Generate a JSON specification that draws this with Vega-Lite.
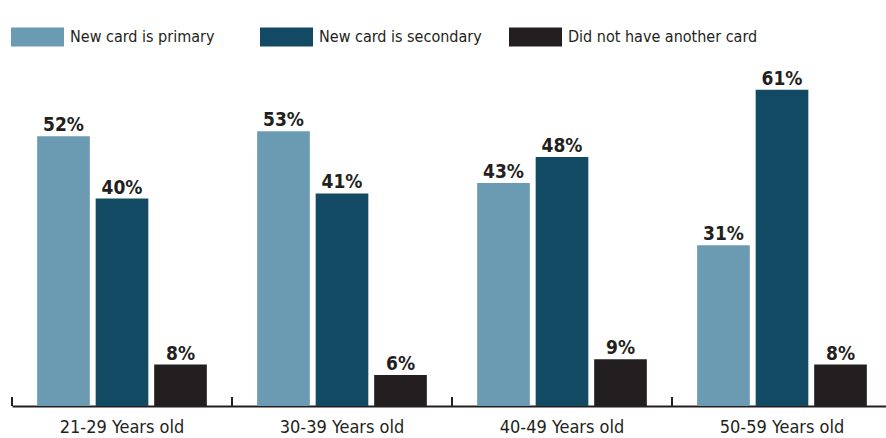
{
  "$schema": "https://vega.github.io/schema/vega-lite/v6.json",
  "width": 880,
  "height": 363,
  "autosize": {"type": "none"},
  "padding": {"left": 12, "top": 43, "right": 0, "bottom": 32},
  "background": "white",
  "config": {
    "view": {"stroke": null},
    "font": "DejaVu Sans Condensed, sans-serif"
  },
  "data": {
    "values": [
      {"age": "21-29 Years old", "series": "New card is primary", "value": 0.52},
      {"age": "21-29 Years old", "series": "New card is secondary", "value": 0.40},
      {"age": "21-29 Years old", "series": "Did not have another card", "value": 0.08},
      {"age": "30-39 Years old", "series": "New card is primary", "value": 0.53},
      {"age": "30-39 Years old", "series": "New card is secondary", "value": 0.41},
      {"age": "30-39 Years old", "series": "Did not have another card", "value": 0.06},
      {"age": "40-49 Years old", "series": "New card is primary", "value": 0.43},
      {"age": "40-49 Years old", "series": "New card is secondary", "value": 0.48},
      {"age": "40-49 Years old", "series": "Did not have another card", "value": 0.09},
      {"age": "50-59 Years old", "series": "New card is primary", "value": 0.31},
      {"age": "50-59 Years old", "series": "New card is secondary", "value": 0.61},
      {"age": "50-59 Years old", "series": "Did not have another card", "value": 0.08}
    ]
  },
  "encoding": {
    "x": {
      "field": "age", "type": "nominal", "title": null,
      "scale": {"paddingInner": 0, "paddingOuter": 0},
      "axis": {
        "labelAngle": 0, "ticks": false,
        "domainColor": "#231f20", "domainWidth": 2,
        "labelFontSize": 18, "labelColor": "#231f20", "labelPadding": 12,
        "labelFont": "DejaVu Sans Condensed, sans-serif"
      }
    },
    "y": {
      "field": "value", "type": "quantitative", "axis": null,
      "scale": {"domain": [0, 0.70], "nice": false}
    }
  },
  "layer": [
    {
      "mark": {"type": "rule", "strokeWidth": 2, "color": "#231f20"},
      "encoding": {
        "x": {"field": "age", "type": "nominal", "bandPosition": 0},
        "y": {"datum": 0},
        "y2": {"datum": 0.017}
      }
    },
    {
      "mark": {"type": "bar"},
      "encoding": {
        "xOffset": {
          "field": "series", "type": "nominal",
          "sort": ["New card is primary", "New card is secondary", "Did not have another card"],
          "scale": {"paddingInner": 0.1, "paddingOuter": 0.43}
        },
        "color": {
          "field": "series", "type": "nominal",
          "sort": ["New card is primary", "New card is secondary", "Did not have another card"],
          "scale": {
            "domain": ["New card is primary", "New card is secondary", "Did not have another card"],
            "range": ["#6b9ab3", "#134a63", "#231f20"]
          },
          "legend": {
            "title": null, "orient": "none", "legendX": -1, "legendY": -33,
            "direction": "horizontal", "columns": 3, "gridAlign": "all",
            "columnPadding": 0, "padding": 0,
            "symbolType": "M-1,-0.36H1V0.36H-1Z", "symbolSize": 2809,
            "symbolStrokeWidth": 0, "symbolOpacity": 1,
            "labelFontSize": 16, "labelColor": "#231f20", "labelOffset": 6,
            "labelLimit": 400,
            "labelFont": "DejaVu Sans Condensed, sans-serif"
          }
        }
      }
    },
    {
      "mark": {"type": "text", "baseline": "alphabetic", "dy": -5, "fontSize": 19, "fontWeight": "bold", "color": "#231f20"},
      "encoding": {
        "xOffset": {
          "field": "series", "type": "nominal",
          "sort": ["New card is primary", "New card is secondary", "Did not have another card"],
          "scale": {"paddingInner": 0.1, "paddingOuter": 0.43}
        },
        "text": {"field": "value", "type": "quantitative", "format": ".0%"}
      }
    }
  ]
}
